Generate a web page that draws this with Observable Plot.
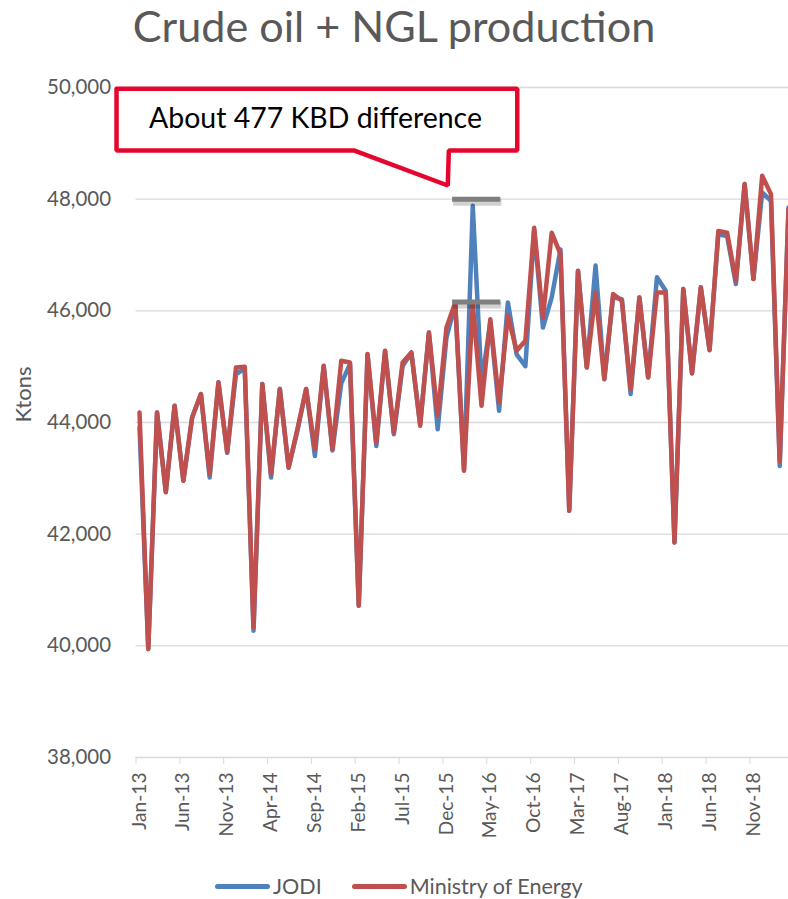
<!DOCTYPE html>
<html>
<head>
<meta charset="utf-8">
<script src="https://cdn.jsdelivr.net/npm/d3@7"></script>
<script src="https://cdn.jsdelivr.net/npm/@observablehq/plot@0.6"></script>
<style>
  html, body { margin: 0; padding: 0; background: #fff; }
  body { width: 788px; height: 899px; overflow: hidden; position: relative; font-family: Lato, "Open Sans", sans-serif; }
  #title { position: absolute; left: 0; width: 788px; text-align: center; color: #595959; white-space: nowrap; line-height: 1.1; }
  #chart { position: absolute; left: 0; top: 62px; }
  #legend { position: absolute; left: 215px; top: 870px; height: 32px; display: flex; align-items: center; color: #595959; white-space: nowrap; }
  .sw { width: 55px; height: 5px; border-radius: 3px; }
</style>
</head>
<body>
<div id="title">Crude oil + NGL production</div>
<div id="chart"></div>
<div id="legend"></div>
<script>
// ---- data ----
const monthNames = ["Jan","Feb","Mar","Apr","May","Jun","Jul","Aug","Sep","Oct","Nov","Dec"];
const months = d3.range(75).map(i => monthNames[i % 12] + "-" + (13 + Math.floor(i / 12)));
const tickLabels = ["Jan-13","Jun-13","Nov-13","Apr-14","Sep-14","Feb-15","Jul-15","Dec-15","May-16","Oct-16","Mar-17","Aug-17","Jan-18","Jun-18","Nov-18"];
const yTicks = [38000, 40000, 42000, 44000, 46000, 48000, 50000];

const jodi = [43910,39950,44180,42760,44300,42960,44090,44510,43015,44720,
              43460,44870,44960,40270,44690,43015,44600,43190,43850,44600,
              43400,45010,43500,44700,45045,40720,45220,43580,45280,43790,
              45010,45250,43970,45610,43880,45520,46120,43150,47880,44700,
              45800,44210,46150,45220,45010,47450,45700,46240,47100,42420,
              46720,44990,46810,44780,46240,46210,44510,46240,44810,46600,
              46360,41850,46390,44880,46420,45300,47370,47340,46480,48270,
              46570,48120,47970,43220,47850];
const moe  = [44180,39940,44180,42750,44300,42955,44090,44510,43075,44715,
              43465,44985,45000,40330,44690,43075,44600,43195,43880,44600,
              43520,45015,43520,45105,45075,40720,45225,43640,45285,43820,
              45075,45255,43940,45610,44120,45700,46150,43135,46120,44300,
              45850,44360,45910,45285,45465,47490,45880,47400,47015,42420,
              46715,44985,46330,44775,46300,46180,44600,46240,44805,46330,
              46330,41850,46390,44880,46420,45295,47430,47400,46540,48270,
              46570,48420,48090,43310,47820];

const seriesNames = ["JODI", "Ministry of Energy"];
const seriesColors = ["#4f81bd", "#c0504d"];

// annotation (in data units: month index, ktons)
const calloutText = "About 477 KBD difference";
const calloutShape = [
  {x: -2.62, y: 49977}, {x: 43.07, y: 49977}, {x: 43.07, y: 48872},
  {x: 35.27, y: 48872}, {x: 35.15, y: 48245}, {x: 24.44, y: 48872},
  {x: -2.62, y: 48872}, {x: -2.62, y: 49977}
];
const calloutAnchor = {x: 20.07, y: 49440};
const diffBars = [{x1: 35.7, x2: 41.2, y: 48000}, {x1: 35.7, x2: 41.2, y: 46160}];

// ---- font fitting helper ----
const ctx = document.createElement("canvas").getContext("2d");
function fit(text, target, family = "Lato") {
  ctx.font = `100px ${family}`;
  return 100 * target / ctx.measureText(text).width;
}
const titleSize = fit("Crude oil + NGL production", 524);
const yLabSize = fit("50,000", 64);
const xLabSize = fit("Nov-13", 64);
const ktonsSize = fit("Ktons", 56);
const calloutSize = fit(calloutText, 333);
const legendSize = fit("Ministry of Energy", 174);

// title: baseline near y = 42
const title = document.getElementById("title");
title.style.fontSize = titleSize + "px";
title.style.top = Math.max(0, 42 - 0.937 * titleSize) + "px";

const rows = [
  ...jodi.map((v, i) => ({i, v, s: seriesNames[0]})),
  ...moe.map((v, i) => ({i, v, s: seriesNames[1]}))
];

const chart = Plot.plot({
  width: 788,
  height: 804,
  marginTop: 25,
  marginBottom: 109,
  marginLeft: 135.5,
  marginRight: 0,
  style: {fontFamily: "Lato, sans-serif", color: "#595959", background: "transparent", overflow: "visible"},
  x: {type: "linear", domain: [-0.4, 74], label: null},
  y: {domain: [38000, 50000], label: null},
  marks: [
    Plot.gridY(yTicks, {stroke: "#d9d9d9", strokeOpacity: 1, strokeWidth: 1.3}),
    Plot.axisY(yTicks, {tickSize: 0, tickPadding: 25, tickFormat: d3.format(","), fontSize: yLabSize, label: null}),
    Plot.axisX(d3.range(0, 71, 5).map(d => d - 0.4), {tickSize: 7, tickFormat: () => "", stroke: "#d9d9d9", label: null}),
    Plot.axisX(d3.range(0, 71, 5), {tickSize: 0, tickPadding: 15, tickRotate: -90, tickFormat: i => tickLabels[i / 5], fontSize: xLabSize, label: null}),
    Plot.text([{y: 44000, t: "Ktons"}], {y: "y", text: "t", frameAnchor: "left", dx: -112, rotate: -90, fontSize: ktonsSize, fill: "#595959"}),
    Plot.line(rows.filter(d => d.s === seriesNames[0]), {x: "i", y: "v", stroke: seriesColors[0], strokeWidth: 4.5, strokeLinejoin: "round", strokeLinecap: "round"}),
    Plot.line(rows.filter(d => d.s === seriesNames[1]), {x: "i", y: "v", stroke: seriesColors[1], strokeWidth: 4.5, strokeLinejoin: "round", strokeLinecap: "round"}),
    Plot.ruleY(diffBars, {x1: "x1", x2: "x2", y: "y", stroke: "#000", strokeOpacity: 0.18, strokeWidth: 7, dy: 3, dx: 1}),
    Plot.ruleY(diffBars, {x1: "x1", x2: "x2", y: "y", stroke: "#7f7f7f", strokeWidth: 5}),
    Plot.line(calloutShape, {x: "x", y: "y", fill: "white", stroke: "#e5062f", strokeWidth: 4.5, strokeLinejoin: "miter"}),
    Plot.text([calloutAnchor], {x: "x", y: "y", text: () => calloutText, fontSize: calloutSize, fill: "#000"})
  ]
});
document.getElementById("chart").appendChild(chart);

// legend
const legend = document.getElementById("legend");
legend.style.fontSize = legendSize + "px";
seriesNames.forEach((name, k) => {
  const sw = document.createElement("div");
  sw.className = "sw";
  sw.style.background = seriesColors[k];
  const t = document.createElement("span");
  t.textContent = name;
  t.style.marginLeft = "3px";
  t.style.marginRight = k === 0 ? "30px" : "0";
  legend.appendChild(sw);
  legend.appendChild(t);
});
</script>
</body>
</html>
